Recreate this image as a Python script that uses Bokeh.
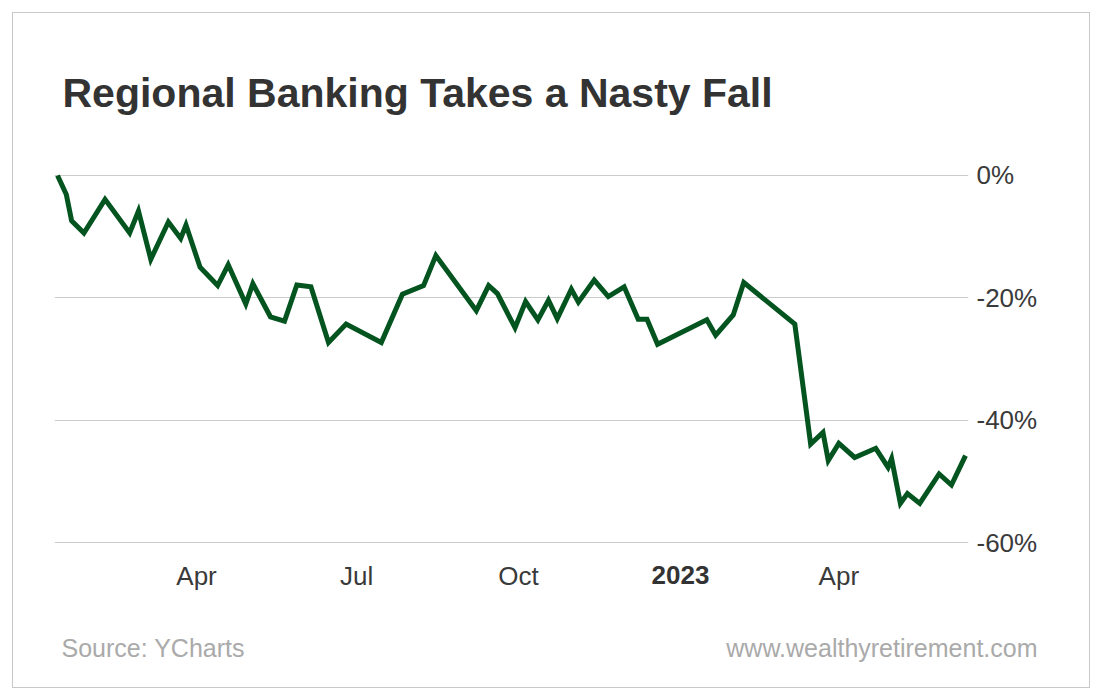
import pandas as pd
from datetime import datetime
from bokeh.plotting import figure
from bokeh.models import (Range1d, MonthsTicker, DatetimeTickFormatter, FixedTicker,
                          Label, CustomJSTickFormatter)
from bokeh.embed import file_html
from bokeh.resources import INLINE

# ---- data ----
dates = ["2022-01-12", "2022-01-17", "2022-01-20", "2022-01-27", "2022-02-08", "2022-02-22",
         "2022-02-27", "2022-03-06", "2022-03-16", "2022-03-23", "2022-03-26", "2022-04-03",
         "2022-04-13", "2022-04-19", "2022-04-29", "2022-05-03", "2022-05-13", "2022-05-21",
         "2022-05-28", "2022-06-05", "2022-06-15", "2022-06-25", "2022-07-15", "2022-07-27",
         "2022-08-08", "2022-08-15", "2022-09-07", "2022-09-14", "2022-09-19", "2022-09-29",
         "2022-10-05", "2022-10-12", "2022-10-18", "2022-10-23", "2022-10-31", "2022-11-04",
         "2022-11-13", "2022-11-21", "2022-11-30", "2022-12-08", "2022-12-13", "2022-12-19",
         "2023-01-16", "2023-01-21", "2023-01-31", "2023-02-06", "2023-03-07", "2023-03-16",
         "2023-03-23", "2023-03-26", "2023-04-01", "2023-04-10", "2023-04-22", "2023-04-29",
         "2023-05-01", "2023-05-06", "2023-05-10", "2023-05-17", "2023-05-28", "2023-06-04",
         "2023-06-12"]
change_pct = [0.0, -3.1, -7.4, -9.4, -3.9, -9.4, -5.8, -13.7, -7.6, -10.3, -8.1, -15.0,
              -18.0, -14.6, -21.0, -17.7, -23.1, -23.8, -17.9, -18.2, -27.3, -24.3, -27.3, -19.4,
              -18.0, -13.1, -22.1, -18.0, -19.3, -24.9, -20.6, -23.6, -20.4, -23.4, -18.6, -20.7,
              -17.1, -19.8, -18.2, -23.5, -23.5, -27.6, -23.6, -26.1, -22.8, -17.5, -24.3, -43.9,
              -42.0, -46.6, -43.8, -46.1, -44.6, -47.7, -46.3, -53.6, -52.0, -53.6, -48.8, -50.6,
              -45.8]
y_ticks = [0, -20, -40, -60]
year_tick = "2023-01-01"

title_text = "Regional Banking Takes a Nasty Fall"
source_text = "Source: YCharts"
site_text = "www.wealthyretirement.com"

FONT = "Liberation Sans"
x = pd.to_datetime(dates)
yr_ms = float((pd.Timestamp(year_tick) - pd.Timestamp("1970-01-01")).total_seconds() * 1000)

p = figure(width=1078, height=676, x_axis_type="datetime", output_backend="svg",
           toolbar_location=None, tools="",
           x_range=Range1d(datetime(2022, 1, 10, 6, 43), datetime(2023, 6, 13, 16, 48)),
           y_range=Range1d(-60.98, 0.98),
           y_axis_location="right",
           min_border_left=41, min_border_right=123, min_border_top=154, min_border_bottom=141)
p.margin = (12, 10, 10, 12)
p.styles = {"border": "1px solid #c8c8c8"}
p.outline_line_color = None
p.background_fill_color = "white"
p.border_fill_color = "white"

p.line(x, change_pct, line_color="#03541f", line_width=5, line_join="miter")

# grid
p.xgrid.grid_line_color = None
p.ygrid.grid_line_color = "#cccccc"
p.ygrid.grid_line_width = 1

# y axis (right)
ya = p.yaxis[0]
ya.ticker = FixedTicker(ticks=y_ticks)
ya.formatter = CustomJSTickFormatter(code="return tick.toFixed(0) + '%';")
ya.axis_line_color = None
ya.major_tick_line_color = None
ya.minor_tick_line_color = None
ya.major_tick_out = 0
ya.major_tick_in = 0
ya.major_label_standoff = 8
ya.major_label_text_font = FONT
ya.major_label_text_font_size = "26px"
ya.major_label_text_color = "#3a3a3a"

# x axis
xa = p.xaxis[0]
xa.ticker = MonthsTicker(months=[0, 3, 6, 9])
xa.formatter = DatetimeTickFormatter(months="%b", years="%b")
xa.major_label_overrides = {yr_ms: ""}
xa.axis_line_color = None
xa.major_tick_line_color = None
xa.minor_tick_line_color = None
xa.major_tick_out = 0
xa.major_tick_in = 0
xa.major_label_standoff = 12
xa.major_label_text_font = FONT
xa.major_label_text_font_size = "26px"
xa.major_label_text_color = "#3a3a3a"

# title
p.title.text = title_text
p.title.align = "left"
p.title.offset = 8
p.title.standoff = 108
p.title.text_font = FONT
p.title.text_font_size = "41px"
p.title.text_font_style = "bold"
p.title.text_color = "#333333"

# footer texts and bold year label, placed in the panel below the frame
p.add_layout(Label(x=7, y=-26, x_units="screen", y_units="screen", text=source_text,
                   text_font=FONT, text_font_size="25px", text_color="#aaaaaa",
                   text_baseline="alphabetic", text_align="left"), "below")
p.add_layout(Label(x=983, y=2, x_units="screen", y_units="screen", text=site_text,
                   text_font=FONT, text_font_size="25px", text_color="#aaaaaa",
                   text_baseline="alphabetic", text_align="right"), "below")
p.add_layout(Label(x=yr_ms, x_units="data", y=93, y_units="screen",
                   text="2023", text_align="center", text_baseline="alphabetic",
                   text_font=FONT, text_font_size="26px", text_font_style="bold",
                   text_color="#333333"), "below")

open("out.html", "w").write(file_html(p, INLINE))
